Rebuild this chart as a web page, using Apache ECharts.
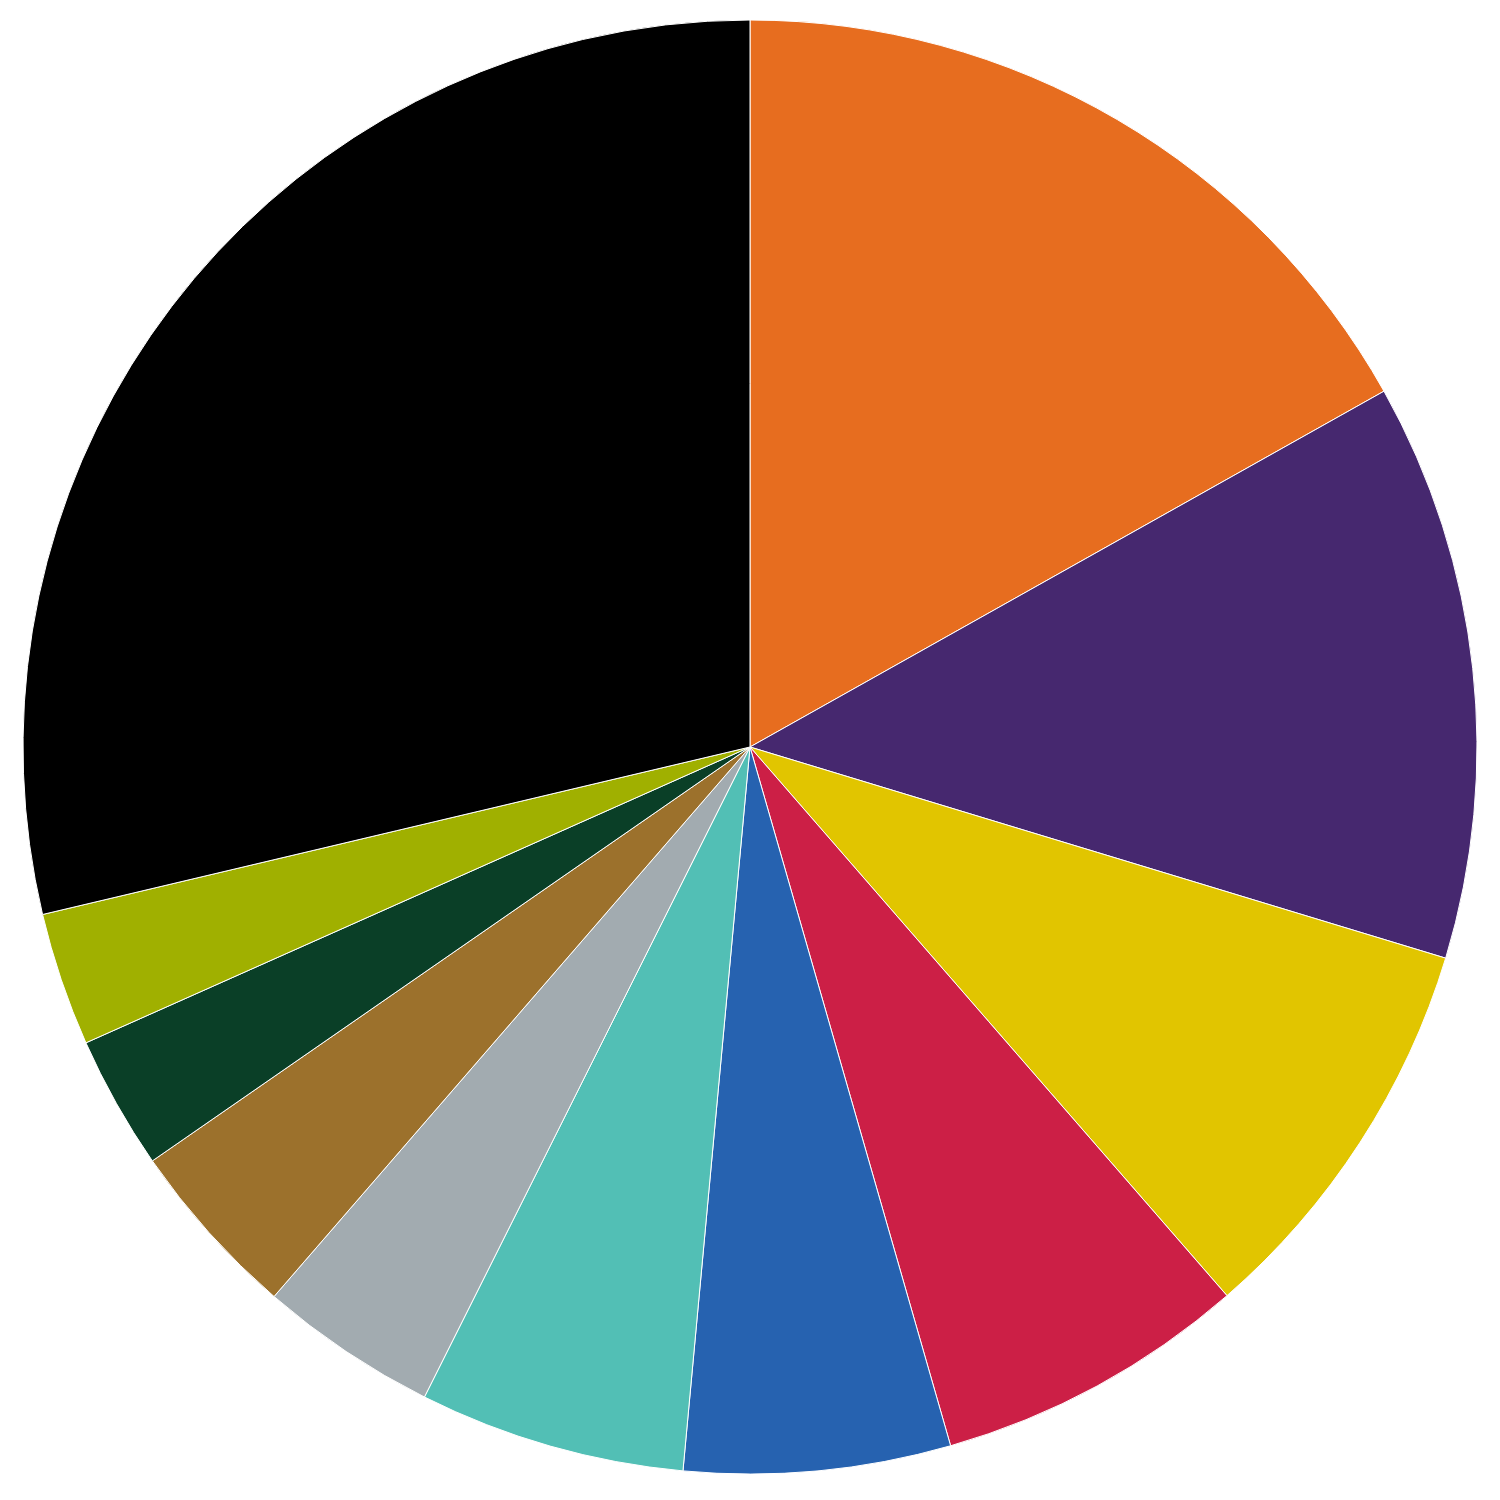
<!DOCTYPE html>
<html>
<head>
<meta charset="utf-8">
<script src="https://cdn.jsdelivr.net/npm/echarts@6/dist/echarts.min.js"></script>
<style>
  html, body { margin: 0; padding: 0; background: #fff; }
  #main { width: 1500px; height: 1500px; }
</style>
</head>
<body>
<div id="main"></div>
<script>
// slice shares (clockwise from 12 o'clock)
var names = ['A', 'B', 'C', 'D', 'E', 'F', 'G', 'H', 'I', 'J', 'K'];
var values = [16.86, 12.83, 8.92, 6.94, 5.92, 5.92, 3.97, 4.0, 2.97, 2.97, 28.7];
var colors = ['#E76D1F', '#46286F', '#E1C500', '#CC1F46', '#2662B0', '#52BFB5',
              '#A2ABB0', '#9C712C', '#0A3F27', '#A0B000', '#000000'];

var data = [];
for (var i = 0; i < values.length; i++) {
    data.push({ name: names[i], value: values[i], itemStyle: { color: colors[i] } });
}

var myChart = echarts.init(document.getElementById('main'));
var option = {
    animation: false,
    series: [{
        type: 'pie',
        center: [750, 747],
        radius: 727,
        startAngle: 90,
        clockwise: true,
        avoidLabelOverlap: false,
        label: { show: false },
        labelLine: { show: false },
        itemStyle: { borderColor: '#ffffff', borderWidth: 1 },
        emphasis: { disabled: true },
        data: data
    }]
};
myChart.setOption(option);
</script>
</body>
</html>
